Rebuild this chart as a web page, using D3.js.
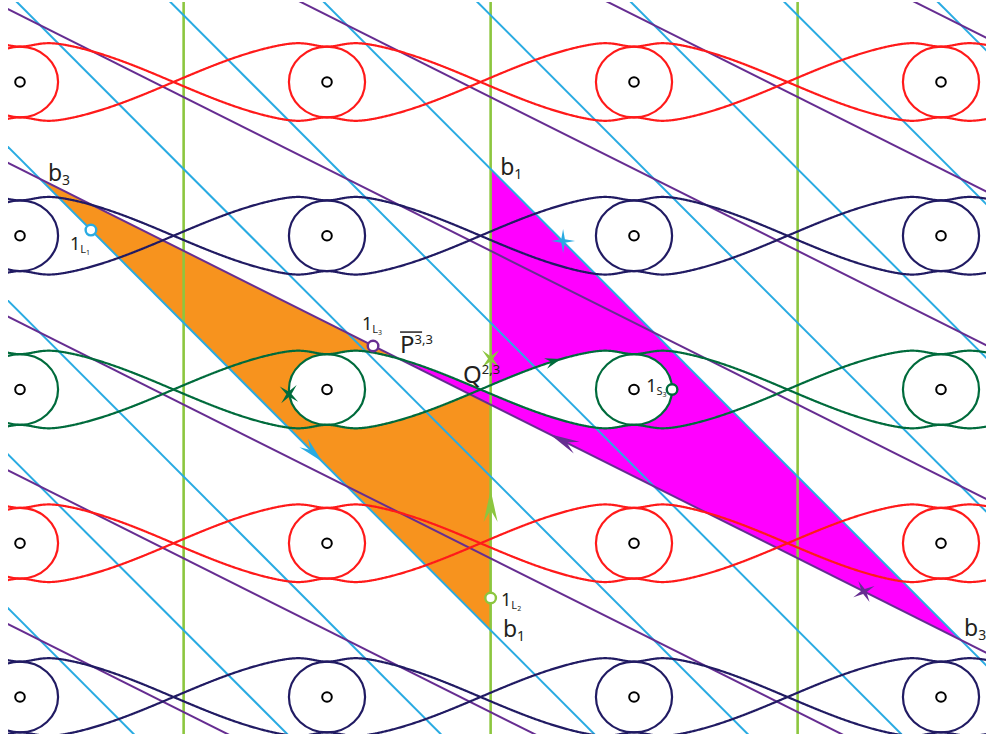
<!DOCTYPE html>
<html>
<head>
<meta charset="utf-8">
<script src="https://cdn.jsdelivr.net/npm/d3@7"></script>
<style>
  body { margin: 0; background: #fff; }
  svg { display: block; font-family: "Noto Sans", "Open Sans", sans-serif; }
</style>
</head>
<body>
<div id="chart"></div>
<script>
// lattice coordinates: X = column of centres, Y = row of chains (Y grows downward)
const cols = [0, 1, 2, 3];
const rows = [0, 1, 2, 3, 4];
const rowColors = ["#ff1a1a", "#211b63", "#006b3c", "#ff1a1a", "#211b63"];

// line families: blue  Y = 2X + b,  purple  Y = X + b,  green  X = c
const blueOffsets = [-6.5, -5.5, -4.5, -3.5, -2.5, -1.5, -0.5, 0.5, 1.5, 2.5, 3.5];
const purpleOffsets = [-3.435, -2.435, -1.435, -0.435, 0.565, 1.565, 2.565, 3.565];
const greenCuts = [0.533, 1.533, 2.533];

// open circles on the lines
const points = [
  {X: 0.231, Y: 0.963, color: "#29abe2"},
  {X: 1.150, Y: 1.717, color: "#662d91"},
  {X: 1.533, Y: 3.356, color: "#8cc63f"},
  {X: 2.124, Y: 2.000, color: "#006b3c"}
];
// four-pointed stars
const stars = [
  {X: 1.769, Y: 1.034, color: "#29abe2", rot: 0},
  {X: 1.533, Y: 1.800, color: "#8cc63f", rot: 45},
  {X: 0.876, Y: 2.030, color: "#006b3c", rot: 40},
  {X: 2.749, Y: 3.314, color: "#662d91", rot: 62}
];
// arrow heads: tip and direction in lattice units
const arrows = [
  {X: 0.984, Y: 2.468, dX: 1, dY: 2, color: "#29abe2", len: 26, wid: 12},
  {X: 1.726, Y: 2.291, dX: -1, dY: -1, color: "#662d91", len: 30, wid: 13},
  {X: 1.533, Y: 2.654, dX: 0, dY: -1, color: "#8cc63f", len: 32, wid: 14},
  {X: 1.762, Y: 1.802, dX: 1, dY: -0.57, color: "#006b3c", len: 16, wid: 11}
];
// big labels
const labels = [
  {base: "b", sub: "3", X: 0.091, Y: 0.644},
  {base: "b", sub: "1", X: 1.564, Y: 0.605},
  {base: "b", sub: "1", X: 1.573, Y: 3.610},
  {base: "b", sub: "3", X: 3.075, Y: 3.603},
  {base: "P", sup: "3,3", bar: true, X: 1.238, Y: 1.763},
  {base: "Q", sup: "2,3", X: 1.443, Y: 1.958}
];
// small point labels 1_{L_i}, 1_{S_3}
const pointLabels = [
  {sub: "L", subsub: "1", X: 0.163, Y: 1.093},
  {sub: "L", subsub: "3", X: 1.114, Y: 1.613},
  {sub: "L", subsub: "2", X: 1.567, Y: 3.408},
  {sub: "S", subsub: "3", X: 2.040, Y: 2.016}
];

const width = 986, height = 740;
const amp = 0.27;      // chain half height (rows)
const dip = 0.04;      // pinch of the chain where it crosses the oval
const dipW = 0.068;    // pinch width (columns)
const eyeRx = 0.124;   // inner oval half width (columns)
const eyeRy = amp - dip;

const x = d3.scaleLinear().domain([0, 3]).range([20, 941]);
const y = d3.scaleLinear().domain([0, 4]).range([82, 697]);

const blueY = b => X => 2 * X + b;
const purpleY = b => X => X + b;
const wave = X => {
  let v = amp * Math.cos(Math.PI * X);
  for (let c = -1; c <= 4; c++) {
    v -= dip * Math.cos(Math.PI * c) * Math.exp(-Math.pow((X - c) / dipW, 2));
  }
  return v;
};
const chainUp = r => X => r - wave(X);
const chainDn = r => X => r + wave(X);

const sample = (a, b, f, n) => d3.range(n + 1).map(i => {
  const X = a + (b - a) * i / n;
  return [X, f(X)];
});
const ovalArc = (cx, cy, t0, t1, n) => d3.range(n + 1).map(i => {
  const t = t0 + (t1 - t0) * i / n;
  return [cx + eyeRx * Math.cos(t), cy + eyeRy * Math.sin(t)];
});

const svg = d3.select("#chart").append("svg")
  .attr("width", width)
  .attr("height", height);

svg.append("clipPath").attr("id", "frame")
  .append("rect")
  .attr("x", 8).attr("y", 2)
  .attr("width", 978).attr("height", 732);

const g = svg.append("g").attr("clip-path", "url(#frame)");
const line = d3.line().x(d => x(d[0])).y(d => y(d[1]));
const area = d3.area()
  .defined(d => d[1] <= d[2])
  .x(d => x(d[0]))
  .y0(d => y(d[1]))
  .y1(d => y(d[2]));

const cut = greenCuts[1];
const pTop = purpleY(purpleOffsets[4]);
const bLow = blueY(blueOffsets[7]);
const bHigh = blueY(blueOffsets[4]);

// orange lobe: between purple (top) and blue (bottom), left of the cut
const xStart = purpleOffsets[4] - blueOffsets[7];
g.append("path")
  .attr("d", area(sample(xStart, cut, X => 0, 300).map(d => [d[0], pTop(d[0]), bLow(d[0])])))
  .attr("fill", "#f7931e");

// hole in the orange lobe: loop from the crossing back round the oval
const loopL = sample(1.5, 1, chainDn(2), 200)
  .concat(ovalArc(1, 2, -Math.PI / 2, -3 * Math.PI / 2, 120))
  .concat(sample(1, 1.5, chainUp(2), 200));
g.append("path").attr("d", line(loopL) + "Z").attr("fill", "#fff");

// magenta lobe: sliver under the green chain, then blue edge right of the cut
const xEnd = purpleOffsets[4] - blueOffsets[4];
const magData = sample(1.2, cut, X => 0, 400).map(d => [d[0], chainDn(2)(d[0]), pTop(d[0])])
  .concat(sample(cut, xEnd, X => 0, 600).map(d => [d[0], bHigh(d[0]), pTop(d[0])]));
g.append("path")
  .attr("d", area(magData))
  .attr("fill", "#ff00ff");

// hole in the magenta lobe
const loopR = sample(cut, 2, chainUp(2), 200)
  .concat(ovalArc(2, 2, -Math.PI / 2, Math.PI / 2, 120))
  .concat(sample(2, cut, chainDn(2), 200));
g.append("path").attr("d", line(loopR) + "Z").attr("fill", "#fff");

// green vertical cuts
g.selectAll(".cut")
  .data(greenCuts)
  .join("line")
  .attr("x1", d => x(d)).attr("x2", d => x(d))
  .attr("y1", 0).attr("y2", height)
  .attr("stroke", "#8cc63f")
  .attr("stroke-width", 2.6);

// blue family
g.selectAll(".blue")
  .data(blueOffsets)
  .join("path")
  .attr("d", b => line([[-0.2, blueY(b)(-0.2)], [3.4, blueY(b)(3.4)]]))
  .attr("stroke", "#29abe2")
  .attr("stroke-width", 2)
  .attr("fill", "none");

// purple family
g.selectAll(".purple")
  .data(purpleOffsets)
  .join("path")
  .attr("d", b => line([[-0.2, purpleY(b)(-0.2)], [3.4, purpleY(b)(3.4)]]))
  .attr("stroke", "#662d91")
  .attr("stroke-width", 2)
  .attr("fill", "none");

// chains of eyes
rows.forEach((r, i) => {
  const row = g.append("g")
    .attr("stroke", rowColors[i])
    .attr("stroke-width", 2.2)
    .attr("fill", "none");
  row.append("path").attr("d", line(sample(-0.1, 3.2, chainUp(r), 1200)));
  row.append("path").attr("d", line(sample(-0.1, 3.2, chainDn(r), 1200)));
  row.selectAll("ellipse")
    .data(cols)
    .join("ellipse")
    .attr("cx", c => x(c))
    .attr("cy", y(r))
    .attr("rx", x(eyeRx) - x(0))
    .attr("ry", y(eyeRy) - y(0));
});

// centres
const centres = rows.flatMap(r => cols.map(c => [c, r]));
g.selectAll(".centre")
  .data(centres)
  .join("circle")
  .attr("cx", d => x(d[0]))
  .attr("cy", d => y(d[1]))
  .attr("r", 4.8)
  .attr("fill", "#fff")
  .attr("stroke", "#000")
  .attr("stroke-width", 2);

// arrow heads
g.selectAll(".arrow")
  .data(arrows)
  .join("path")
  .attr("d", d => `M0,0L${-d.len},${-d.wid / 2}L${-d.len * 0.62},0L${-d.len},${d.wid / 2}Z`)
  .attr("transform", d => {
    const ang = Math.atan2(y(d.dY) - y(0), x(d.dX) - x(0)) * 180 / Math.PI;
    return `translate(${x(d.X)},${y(d.Y)}) rotate(${ang})`;
  })
  .attr("fill", d => d.color);

// stars
const starPath = (R, r0) => {
  const pts = d3.range(8).map(i => {
    const a = Math.PI / 4 * i;
    const rad = i % 2 === 0 ? R : r0;
    return [rad * Math.sin(a), -rad * Math.cos(a)];
  });
  return "M" + pts.join("L") + "Z";
};
g.selectAll(".star")
  .data(stars)
  .join("path")
  .attr("d", starPath(12, 2.6))
  .attr("transform", d => `translate(${x(d.X)},${y(d.Y)}) rotate(${d.rot})`)
  .attr("fill", d => d.color);

// open circles
g.selectAll(".pt")
  .data(points)
  .join("circle")
  .attr("cx", d => x(d.X))
  .attr("cy", d => y(d.Y))
  .attr("r", 5.3)
  .attr("fill", "#fff")
  .attr("stroke", d => d.color)
  .attr("stroke-width", 2.4);

// labels
labels.forEach(d => {
  const t = svg.append("text")
    .attr("x", x(d.X))
    .attr("y", y(d.Y))
    .attr("fill", "#231f20");
  t.append("tspan").attr("font-size", d.base === "b" ? 23 : 24).text(d.base);
  if (d.sub) t.append("tspan").attr("font-size", 14).attr("dy", 4).text(d.sub);
  if (d.sup) t.append("tspan").attr("font-size", 13).attr("dy", -9).text(d.sup);
  if (d.bar) {
    svg.append("line")
      .attr("x1", x(d.X)).attr("x2", x(d.X) + 22)
      .attr("y1", y(d.Y) - 21).attr("y2", y(d.Y) - 21)
      .attr("stroke", "#231f20")
      .attr("stroke-width", 1.5);
  }
});

pointLabels.forEach(d => {
  const t = svg.append("text")
    .attr("x", x(d.X))
    .attr("y", y(d.Y))
    .attr("fill", "#231f20");
  t.append("tspan").attr("font-size", 18).text("1");
  t.append("tspan").attr("font-size", 11).attr("dy", 3).text(d.sub);
  t.append("tspan").attr("font-size", 7).attr("dy", 2).text(d.subsub);
});
</script>
</body>
</html>
